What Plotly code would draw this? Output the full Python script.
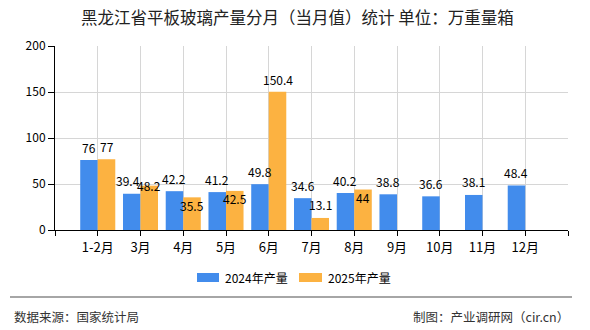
import plotly.graph_objects as go

# ---- data ----
categories = ["1-2月", "3月", "4月", "5月", "6月", "7月", "8月", "9月", "10月", "11月", "12月"]
prod_2024 = [76, 39.4, 42.2, 41.2, 49.8, 34.6, 40.2, 38.8, 36.6, 38.1, 48.4]
prod_2025 = [77, 48.2, 35.5, 42.5, 150.4, 13.1, 44]
series_names = ["2024年产量", "2025年产量"]
title_text = "黑龙江省平板玻璃产量分月（当月值）统计 单位：万重量箱"
source_text = "数据来源：国家统计局"
maker_text = "制图：产业调研网（cir.cn）"

# ---- style ----
W, H = 590, 330
L, R, T, B = 55, 22, 46, 100
PW, PH = W - L - R, H - T - B
BLUE = "#428CEC"
ORANGE = "#FCB241"
FONT = "Noto Sans CJK SC"
BAR_W = 0.41
# vertical label offsets (px) -- collision avoidance as in reference
shift_2024 = [13] * len(prod_2024)
shift_2025 = [13, 0, -8, -8, 12, 13, -8]
xshift_2024 = [0, -4, 0, 0, 0, 0, 0, 0, 0, 0, 0]


def px2x(px):
    return (px - L) / PW


def px2y(py):
    return (H - B - py) / PH


def fmt(v):
    return f"{v:g}"


idx = list(range(len(categories)))

fig = go.Figure()
fig.add_trace(go.Bar(x=idx, y=prod_2024, width=BAR_W, offset=-BAR_W,
                     marker=dict(color=BLUE, line=dict(width=0)),
                     name=series_names[0], showlegend=False, hoverinfo="y"))
fig.add_trace(go.Bar(x=idx[:len(prod_2025)], y=prod_2025, width=BAR_W, offset=0,
                     marker=dict(color=ORANGE, line=dict(width=0)),
                     name=series_names[1], showlegend=False, hoverinfo="y"))

annotations = []
for i, v in enumerate(prod_2024):
    annotations.append(dict(x=i - BAR_W / 2, y=v, xref="x", yref="y", text=fmt(v),
                            showarrow=False, yshift=shift_2024[i], xshift=xshift_2024[i],
                            yanchor="middle", xanchor="center",
                            font=dict(family=FONT, size=12, color="#000")))
for i, v in enumerate(prod_2025):
    annotations.append(dict(x=i + BAR_W / 2, y=v, xref="x", yref="y", text=fmt(v),
                            showarrow=False, yshift=shift_2025[i],
                            yanchor="middle", xanchor="center",
                            font=dict(family=FONT, size=12, color="#000")))

# title
annotations.append(dict(x=px2x(297), y=px2y(17), xref="paper", yref="paper", text=title_text,
                        showarrow=False, xanchor="center", yanchor="middle",
                        font=dict(family=FONT, size=16.5, color="#222")))
# legend (custom)
shapes = []
leg = [(197, 219, BLUE, 223, series_names[0]), (299, 322, ORANGE, 326, series_names[1])]
for x0, x1, col, tx, name in leg:
    shapes.append(dict(type="rect", xref="paper", yref="paper",
                       x0=px2x(x0), x1=px2x(x1), y0=px2y(282), y1=px2y(273),
                       fillcolor=col, line=dict(width=0)))
    annotations.append(dict(x=px2x(tx), y=px2y(277.5), xref="paper", yref="paper", text=name,
                            showarrow=False, xanchor="left", yanchor="middle",
                            font=dict(family=FONT, size=12, color="#000")))
# footer
shapes.append(dict(type="line", xref="paper", yref="paper",
                   x0=px2x(10), x1=px2x(572), y0=px2y(297), y1=px2y(297),
                   line=dict(color="#888888", width=1.5)))
annotations.append(dict(x=px2x(12), y=px2y(316), xref="paper", yref="paper", text=source_text,
                        showarrow=False, xanchor="left", yanchor="middle",
                        font=dict(family=FONT, size=12.5, color="#333")))
annotations.append(dict(x=px2x(571), y=px2y(316), xref="paper", yref="paper", text=maker_text,
                        showarrow=False, xanchor="right", yanchor="middle",
                        font=dict(family=FONT, size=12.5, color="#333")))

fig.update_layout(
    width=W, height=H, autosize=False,
    margin=dict(l=L, r=R, t=T, b=B, pad=0),
    paper_bgcolor="white", plot_bgcolor="white",
    showlegend=False,
    annotations=annotations, shapes=shapes,
    font=dict(family=FONT, color="#000"),
)
fig.update_xaxes(
    range=[-1, len(categories)],
    tickmode="array",
    tickvals=list(range(-1, len(categories) + 1)),
    ticktext=[""] + categories + [""],
    showgrid=True, gridcolor="#d6d6d6", gridwidth=1,
    showline=True, linecolor="#000", linewidth=1,
    ticks="outside", ticklen=5, tickcolor="#000",
    tickfont=dict(family=FONT, size=13, color="#000"),
    zeroline=False, fixedrange=True,
)
fig.update_yaxes(
    range=[0, 200], dtick=50, tick0=0,
    showgrid=True, gridcolor="#d6d6d6", gridwidth=1,
    showline=True, linecolor="#000", linewidth=1,
    ticks="outside", ticklen=6, tickcolor="#000",
    tickfont=dict(family=FONT, size=12, color="#000"),
    zeroline=False, fixedrange=True,
)

fig.write_html("out.html", config={"displayModeBar": False})
